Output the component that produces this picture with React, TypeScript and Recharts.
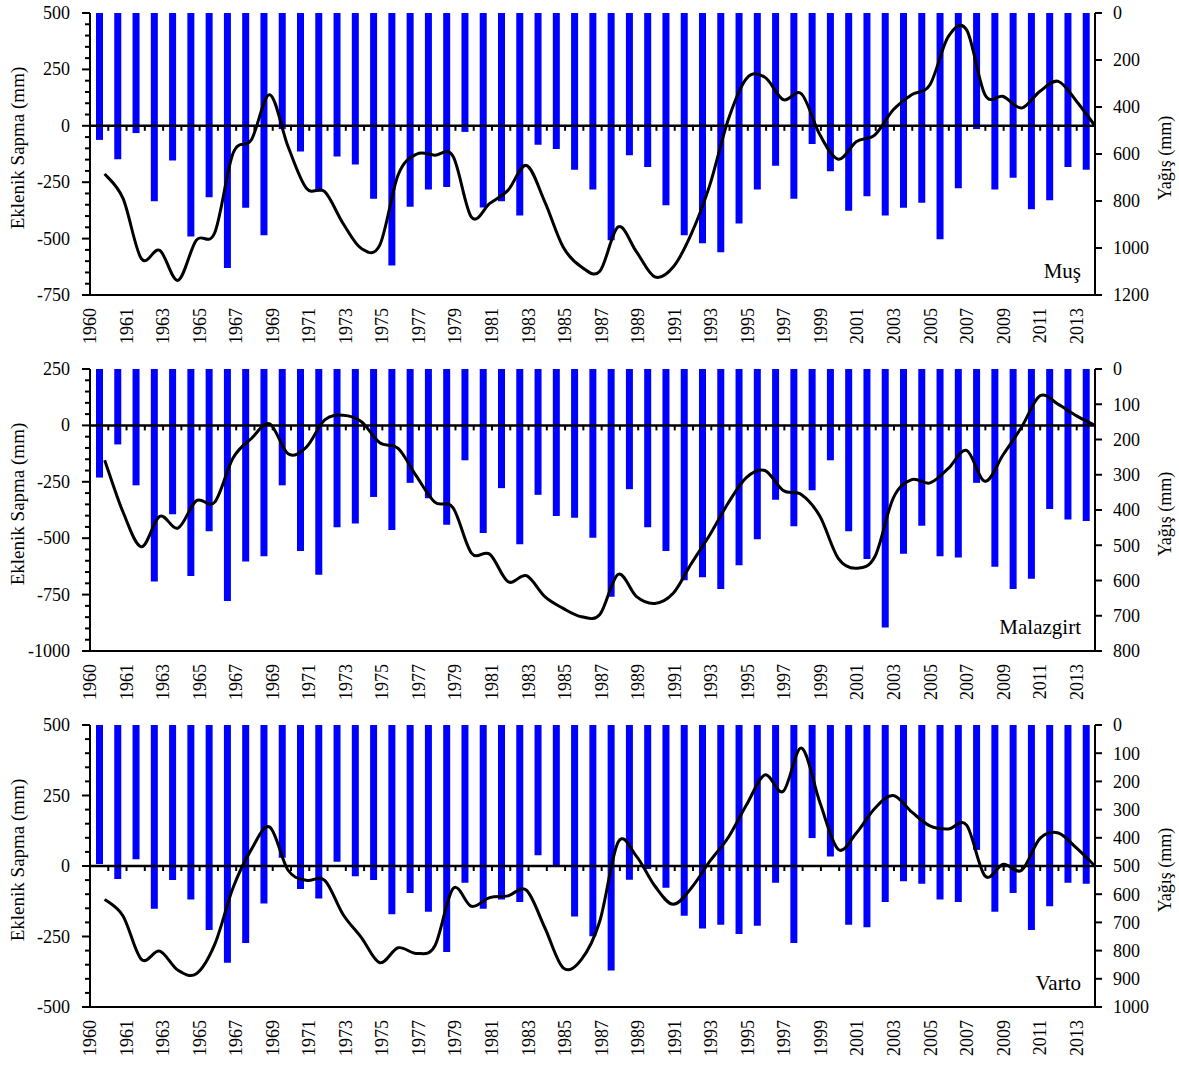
import React from 'react';
import { ComposedChart, Bar, Line, XAxis, YAxis, ReferenceLine } from 'recharts';

const FONT = '"Liberation Serif", "Times New Roman", serif';

// 55 yearly categories (the original x labels are shifted, see tickLabels)
const years = [
  1959, 1960, 1961, 1962, 1963, 1964, 1965, 1966, 1967, 1968, 1969, 1970, 1971, 1972,
  1973, 1974, 1975, 1976, 1977, 1978, 1979, 1980, 1981, 1982, 1983, 1984, 1985, 1986,
  1987, 1988, 1989, 1990, 1991, 1992, 1993, 1994, 1995, 1996, 1997, 1998, 1999, 2000,
  2001, 2002, 2003, 2004, 2005, 2006, 2007, 2008, 2009, 2010, 2011, 2012, 2013,
];

// labels printed at every second category boundary
const tickLabels = [
  '1960', '1961', '1963', '1965', '1967', '1969', '1971', '1973', '1975', '1977',
  '1979', '1981', '1983', '1985', '1987', '1989', '1991', '1993', '1995', '1997',
  '1999', '2001', '2003', '2005', '2007', '2009', '2011', '2013',
];

const musPrecip = [
  540, 622, 511, 801, 628, 951, 784, 1085, 829, 946, 494, 589, 760, 611, 645, 790, 1074, 824,
  751, 740, 506, 828, 801, 862, 561, 579, 667, 751, 967, 605, 655, 818, 946, 980, 1018, 896,
  751, 650, 790, 557, 673, 841, 780, 862, 829, 807, 963, 746, 494, 751, 701, 835, 797, 655, 667,
];
const musDev = [
  -213, -322, -589, -552, -685, -507, -474, -122, -62, 138, -92, -277, -292, -433, -544, -529,
  -218, -126, -130, -136, -405, -344, -285, -176, -337, -537, -626, -645, -448, -559, -670, -626,
  -477, -262, 27, 210, 215, 116, 141, -40, -148, -70, -40, 71, 138, 182, 395, 425, 138, 130, 79,
  153, 197, 108, 0,
];

const malPrecip = [
  308, 214, 330, 603, 412, 587, 460, 658, 546, 531, 330, 516, 584, 449, 438, 363, 457, 323, 367,
  442, 259, 465, 338, 497, 357, 417, 422, 479, 646, 341, 449, 516, 599, 591, 624, 557, 483, 371,
  446, 344, 259, 460, 539, 733, 524, 445, 531, 535, 323, 561, 624, 595, 397, 427, 431,
];
const malDev = [
  -154, -384, -538, -403, -455, -334, -340, -144, -58, 7, -126, -96, 25, 45, 16, -77, -102, -225,
  -340, -366, -566, -571, -693, -666, -759, -811, -848, -838, -660, -759, -789, -744, -611, -485,
  -344, -230, -200, -289, -307, -403, -589, -633, -581, -322, -240, -255, -191, -111, -248, -129,
  -7, 131, 93, 42, 0,
];

const varPrecip = [
  493, 546, 476, 652, 550, 619, 727, 843, 773, 633, 471, 582, 615, 485, 536, 550, 671, 596, 662,
  805, 559, 652, 619, 628, 462, 503, 679, 749, 871, 549, 511, 577, 676, 722, 708, 741, 712, 559,
  773, 401, 466, 708, 717, 628, 554, 563, 619, 628, 443, 662, 596, 727, 643, 559, 563,
];
const varDev = [
  -118, -177, -331, -302, -370, -382, -278, -77, 59, 138, -15, -51, -51, -172, -254, -343, -290,
  -310, -284, -80, -143, -112, -106, -86, -219, -361, -331, -195, 85, 34, -71, -136, -77, 17, 101,
  217, 323, 265, 418, 225, 59, 118, 205, 250, 192, 142, 131, 145, -35, 6, -15, 98, 117, 63, 0,
];

const steps = (a: number, b: number, s: number) => {
  const out: number[] = [];
  for (let v = a; v <= b; v += s) out.push(v);
  return out;
};

const stations = [
  { name: 'Muş', precip: musPrecip, dev: musDev, devMin: -750, devMax: 500, pMax: 1200, pStep: 200 },
  { name: 'Malazgirt', precip: malPrecip, dev: malDev, devMin: -1000, devMax: 250, pMax: 800, pStep: 100 },
  { name: 'Varto', precip: varPrecip, dev: varDev, devMin: -500, devMax: 500, pMax: 1000, pStep: 100 },
];

const W = 1179;
const H = 355;
const TOP = 13;
const XAXIS_H = 60;
const LEFT_W = 90;
const RIGHT_W = 84;

// Excel-style smoothed line (Catmull-Rom through the points)
const smoothCurve: any = (context: any) => {
  let pts: number[][] = [];
  return {
    areaStart() {},
    areaEnd() {},
    lineStart() {
      pts = [];
    },
    point(x: number, y: number) {
      pts.push([+x, +y]);
    },
    lineEnd() {
      if (!pts.length) return;
      context.moveTo(pts[0][0], pts[0][1]);
      for (let i = 0; i < pts.length - 1; i++) {
        const p0 = pts[i - 1] || pts[i];
        const p1 = pts[i];
        const p2 = pts[i + 1];
        const p3 = pts[i + 2] || p2;
        context.bezierCurveTo(
          p1[0] + (p2[0] - p0[0]) / 6,
          p1[1] + (p2[1] - p0[1]) / 6,
          p2[0] - (p3[0] - p1[0]) / 6,
          p2[1] - (p3[1] - p1[1]) / 6,
          p2[0],
          p2[1],
        );
      }
    },
  };
};

const YearTick = (props: any) => {
  const { x, y, payload } = props;
  const i = payload.index ?? props.index;
  if (i % 2 !== 0) return <g />;
  const off = payload.offset ?? 9.14;
  const tx = x - off;
  return (
    <text
      x={tx}
      y={y}
      transform={`rotate(-90 ${tx} ${y})`}
      textAnchor="end"
      dominantBaseline="central"
      fontSize={18}
      fontFamily={FONT}
      fill="#000"
    >
      {tickLabels[i / 2]}
    </text>
  );
};

const DevTick = (props: any) => {
  const { x, y, payload } = props;
  const v = payload.value;
  const major = v % 250 === 0;
  return (
    <g>
      <line x1={x - (major ? 8 : 5)} x2={x} y1={y} y2={y} stroke="#000" strokeWidth={2} />
      {major && (
        <text x={x - 20} y={y} textAnchor="end" dominantBaseline="central" fontSize={18} fontFamily={FONT} fill="#000">
          {v}
        </text>
      )}
    </g>
  );
};

const ZeroLine = (props: any) => {
  const { x1, x2, y1 } = props;
  const n = years.length;
  const step = (x2 - x1) / n;
  return (
    <g>
      <line x1={x1} x2={x2} y1={y1} y2={y1} stroke="#000" strokeWidth={2.5} />
      {years.slice(1).map((_, k) => (
        <line key={k} x1={x1 + (k + 1) * step} x2={x1 + (k + 1) * step} y1={y1} y2={y1 + 5} stroke="#000" strokeWidth={2} />
      ))}
    </g>
  );
};

function Panel({ st, top }: { st: (typeof stations)[number]; top: number }) {
  const data = years.map((yr, i) => ({ year: yr, idx: i, precip: st.precip[i], dev: st.dev[i] }));
  const plotH = H - TOP - XAXIS_H;
  const midY = TOP + plotH / 2;
  const axis = { stroke: '#000', strokeWidth: 2 };

  return (
    <div style={{ position: 'absolute', left: 0, top, width: W, height: H }}>
      <ComposedChart width={W} height={H} data={data} margin={{ top: TOP, right: 0, bottom: 0, left: 0 }}>
        <XAxis
          dataKey="year"
          height={XAXIS_H}
          interval={0}
          axisLine={axis}
          tickLine={false}
          tickSize={0}
          tickMargin={13}
          tick={<YearTick />}
        />
        <XAxis xAxisId="top" dataKey="year" orientation="top" height={0} tick={false} tickLine={false} axisLine={axis} />
        <XAxis xAxisId="ln" type="number" dataKey="idx" domain={[-0.8, 54]} hide allowDataOverflow />
        <YAxis
          yAxisId="left"
          width={LEFT_W}
          domain={[st.devMin, st.devMax]}
          ticks={steps(st.devMin, st.devMax, 50)}
          interval={0}
          axisLine={axis}
          tickLine={false}
          tickSize={0}
          tickMargin={0}
          tick={<DevTick />}
        />
        <YAxis
          yAxisId="right"
          orientation="right"
          width={RIGHT_W}
          reversed
          domain={[0, st.pMax]}
          ticks={steps(0, st.pMax, st.pStep)}
          interval={0}
          axisLine={axis}
          tickLine={axis}
          tickSize={7}
          tickMargin={11}
          tick={{ fill: '#000', fontSize: 18, fontFamily: FONT }}
        />
        <Bar yAxisId="right" dataKey="precip" fill="#0000FF" barSize={7} isAnimationActive={false} />
        <ReferenceLine yAxisId="left" y={0} shape={ZeroLine} />
        <Line
          xAxisId="ln"
          yAxisId="left"
          type={smoothCurve}
          dataKey="dev"
          stroke="#000"
          strokeWidth={3}
          dot={false}
          isAnimationActive={false}
        />
      </ComposedChart>
      <div
        style={{
          position: 'absolute', left: 17, top: midY - 6, transform: 'translate(-50%, -50%) rotate(-90deg)',
          whiteSpace: 'nowrap', fontFamily: FONT, fontSize: 19, lineHeight: 1, color: '#000',
        }}
      >
        Eklenik Sapma (mm)
      </div>
      <div
        style={{
          position: 'absolute', left: 1165, top: midY + 4, transform: 'translate(-50%, -50%) rotate(-90deg)',
          whiteSpace: 'nowrap', fontFamily: FONT, fontSize: 18, lineHeight: 1, color: '#000',
        }}
      >
        Yağış (mm)
      </div>
      <div
        style={{
          position: 'absolute', left: 0, width: 1081, textAlign: 'right', top: TOP + plotH - 15 - 19,
          fontFamily: FONT, fontSize: 21, lineHeight: 1, color: '#000',
        }}
      >
        {st.name}
      </div>
    </div>
  );
}

export default function App() {
  return (
    <div style={{ position: 'absolute', left: 0, top: 0, width: W, height: 1067, background: '#fff' }}>
      {stations.map((st, i) => (
        <Panel key={st.name} st={st} top={i * 356} />
      ))}
    </div>
  );
}
